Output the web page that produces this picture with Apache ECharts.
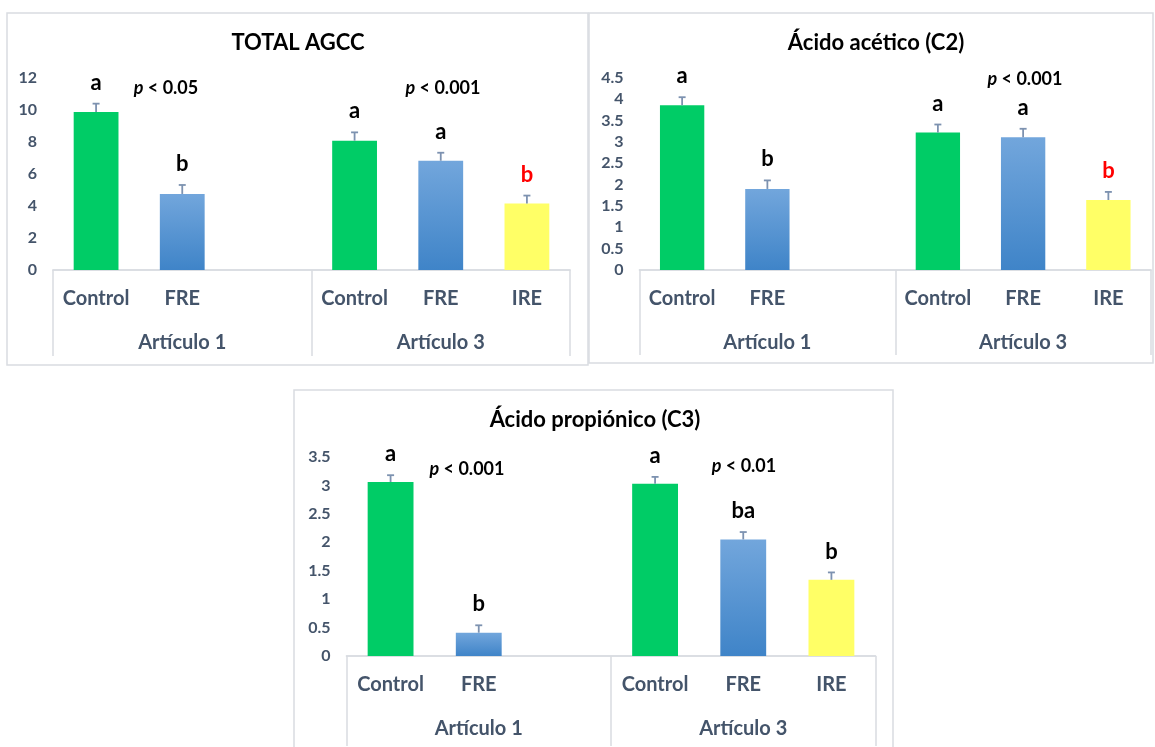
<!DOCTYPE html>
<html>
<head>
<meta charset="utf-8">
<script src="https://cdn.jsdelivr.net/npm/echarts@6/dist/echarts.min.js"></script>
<style>
  html, body { margin: 0; padding: 0; background: #ffffff; }
  #chart { width: 1155px; height: 747px; }
</style>
</head>
<body>
<div id="chart"></div>
<script>
// Treatments inside each study (the third slot of Artículo 1 has no IRE group)
const categories = ['Control', 'FRE', '', 'Control', 'FRE', 'IRE'];
const groups = ['Artículo 1', 'Artículo 3'];

// Total short-chain fatty acids (AGCC)
const totalValues = [9.85, 4.74, null, 8.06, 6.81, 4.14];
const totalErrors = [0.52, 0.56, null, 0.52, 0.50, 0.50];
const totalLetters = ['a', 'b', '', 'a', 'a', 'b'];
const totalPValues = ['< 0.05', '< 0.001'];
const totalTicks = { max: 12, interval: 2 };

// Acetic acid (C2)
const aceticValues = [3.86, 1.90, null, 3.22, 3.11, 1.64];
const aceticErrors = [0.19, 0.20, null, 0.19, 0.20, 0.19];
const aceticLetters = ['a', 'b', '', 'a', 'a', 'b'];
const aceticPValues = ['', '< 0.001'];
const aceticTicks = { max: 4.5, interval: 0.5 };

// Propionic acid (C3)
const propionicValues = [3.06, 0.41, null, 3.03, 2.05, 1.34];
const propionicErrors = [0.12, 0.13, null, 0.12, 0.13, 0.13];
const propionicLetters = ['a', 'b', '', 'a', 'ba', 'b'];
const propionicPValues = ['< 0.001', '< 0.01'];
const propionicTicks = { max: 3.5, interval: 0.5 };

const FONT = 'Lato, "Open Sans", sans-serif';
const AXIS_TEXT = '#44546A';
const FRAME = '#D9DCE1';
const ERR_COLOR = '#7D92B0';

function barColor(name) {
  if (name === 'Control') return '#00CC66';
  if (name === 'IRE') return '#FFFF66';
  return new echarts.graphic.LinearGradient(0, 0, 0, 1, [
    { offset: 0, color: '#72A6DC' },
    { offset: 1, color: '#3F84C8' }
  ]);
}

// Panel layout: frame box, plot grid, title and p-value label anchors
const panels = [
  {
    title: 'TOTAL AGCC', values: totalValues, errors: totalErrors, letters: totalLetters,
    pValues: totalPValues, ticks: totalTicks, red: [5],
    frame: { x: 7, y: 13, width: 581, height: 352 },
    grid: { left: 53, top: 77.5, width: 517, height: 192.5 },
    titlePos: [298, 43], pPos: [[166, 88], [443, 88]], tickLen: 86
  },
  {
    title: 'Ácido acético (C2)', values: aceticValues, errors: aceticErrors, letters: aceticLetters,
    pValues: aceticPValues, ticks: aceticTicks, red: [5],
    frame: { x: 589, y: 13, width: 564, height: 350 },
    grid: { left: 639.5, top: 78, width: 511.5, height: 192 },
    titlePos: [876, 43], pPos: [[0, 0], [1025, 79]], tickLen: 85
  },
  {
    title: 'Ácido propiónico (C3)', values: propionicValues, errors: propionicErrors, letters: propionicLetters,
    pValues: propionicPValues, ticks: propionicTicks, red: [],
    frame: { x: 294, y: 390, width: 599, height: 400 },
    grid: { left: 346.5, top: 457, width: 529, height: 199 },
    titlePos: [595, 420], pPos: [[467, 469], [744, 466]], tickLen: 90
  }
];

const grid = [], xAxis = [], yAxis = [], series = [], graphic = [];

panels.forEach(function (p, gi) {
  graphic.push({
    type: 'rect', shape: p.frame, z: 0, silent: true,
    style: { fill: 'none', stroke: FRAME, lineWidth: 1.5 }
  });
  graphic.push({
    type: 'text', x: p.titlePos[0], y: p.titlePos[1], z: 10,
    style: {
      text: p.title, align: 'center', verticalAlign: 'middle',
      fontFamily: FONT, fontWeight: 'bold', fontSize: 22, fill: '#000000'
    }
  });
  p.pValues.forEach(function (txt, k) {
    if (!txt) return;
    graphic.push({
      type: 'text', x: p.pPos[k][0], y: p.pPos[k][1], z: 10,
      style: {
        text: '{i|p} {n|' + txt + '}', align: 'center', verticalAlign: 'middle',
        rich: {
          i: { fontFamily: FONT, fontWeight: 'bold', fontStyle: 'italic', fontSize: 18, fill: '#000' },
          n: { fontFamily: FONT, fontWeight: 'bold', fontSize: 18, fill: '#000' }
        },
        fontFamily: FONT, fontWeight: 'bold', fontSize: 18, fill: '#000'
      }
    });
  });

  grid.push(Object.assign({ containLabel: false }, p.grid));

  // treatment axis
  xAxis.push({
    type: 'category', gridIndex: gi, data: categories, position: 'bottom',
    axisLine: { show: true, lineStyle: { color: FRAME, width: 1.5 } },
    axisTick: { show: false },
    axisLabel: {
      interval: 0, margin: 19, color: AXIS_TEXT,
      fontFamily: FONT, fontWeight: 'bold', fontSize: 20
    },
    splitLine: { show: false }
  });
  // study axis, its ticks mark the group boundaries
  xAxis.push({
    type: 'category', gridIndex: gi, data: groups, position: 'bottom',
    axisLine: { show: true, lineStyle: { color: FRAME, width: 1.5 } },
    axisTick: { show: true, interval: 0, length: p.tickLen, lineStyle: { color: FRAME, width: 1.5 } },
    axisLabel: {
      interval: 0, margin: 63, color: AXIS_TEXT,
      fontFamily: FONT, fontWeight: 'bold', fontSize: 20
    },
    splitLine: { show: false }
  });
  yAxis.push({
    type: 'value', gridIndex: gi, min: 0, max: p.ticks.max, interval: p.ticks.interval,
    axisLine: { show: false }, axisTick: { show: false }, splitLine: { show: false },
    axisLabel: {
      margin: 16, color: AXIS_TEXT, fontFamily: FONT, fontWeight: 'bold', fontSize: 16
    }
  });

  series.push({
    type: 'bar', xAxisIndex: gi * 2, yAxisIndex: gi, barWidth: '52%', silent: true,
    data: p.values.map(function (v, i) {
      return v == null ? '-' : { value: v, itemStyle: { color: barColor(categories[i]) } };
    })
  });

  const errData = [];
  p.values.forEach(function (v, i) {
    if (v != null) errData.push([i, v, p.errors[i]]);
  });
  series.push({
    type: 'custom', xAxisIndex: gi * 2, yAxisIndex: gi, z: 5, silent: true,
    data: errData,
    renderItem: function (params, api) {
      const i = api.value(0), v = api.value(1), e = api.value(2);
      const base = api.coord([i, v]);
      const top = api.coord([i, v + e]);
      const cap = 3.5;
      const letter = p.letters[i];
      const isRed = p.red.indexOf(i) >= 0;
      return {
        type: 'group',
        children: [
          { type: 'line', shape: { x1: base[0], y1: base[1], x2: top[0], y2: top[1] },
            style: { stroke: ERR_COLOR, lineWidth: 1.8 } },
          { type: 'line', shape: { x1: top[0] - cap, y1: top[1], x2: top[0] + cap, y2: top[1] },
            style: { stroke: ERR_COLOR, lineWidth: 1.8 } },
          { type: 'text', x: top[0], y: top[1] - 21,
            style: { text: letter, align: 'center', verticalAlign: 'middle',
              fontFamily: FONT, fontWeight: 'bold', fontSize: 22,
              fill: isRed ? '#FF0000' : '#000000' } }
        ]
      };
    }
  });
});

const chart = echarts.init(document.getElementById('chart'), null, { renderer: 'canvas' });
chart.setOption({
  backgroundColor: '#ffffff',
  animation: false,
  grid: grid,
  xAxis: xAxis,
  yAxis: yAxis,
  series: series,
  graphic: graphic
});
</script>
</body>
</html>
